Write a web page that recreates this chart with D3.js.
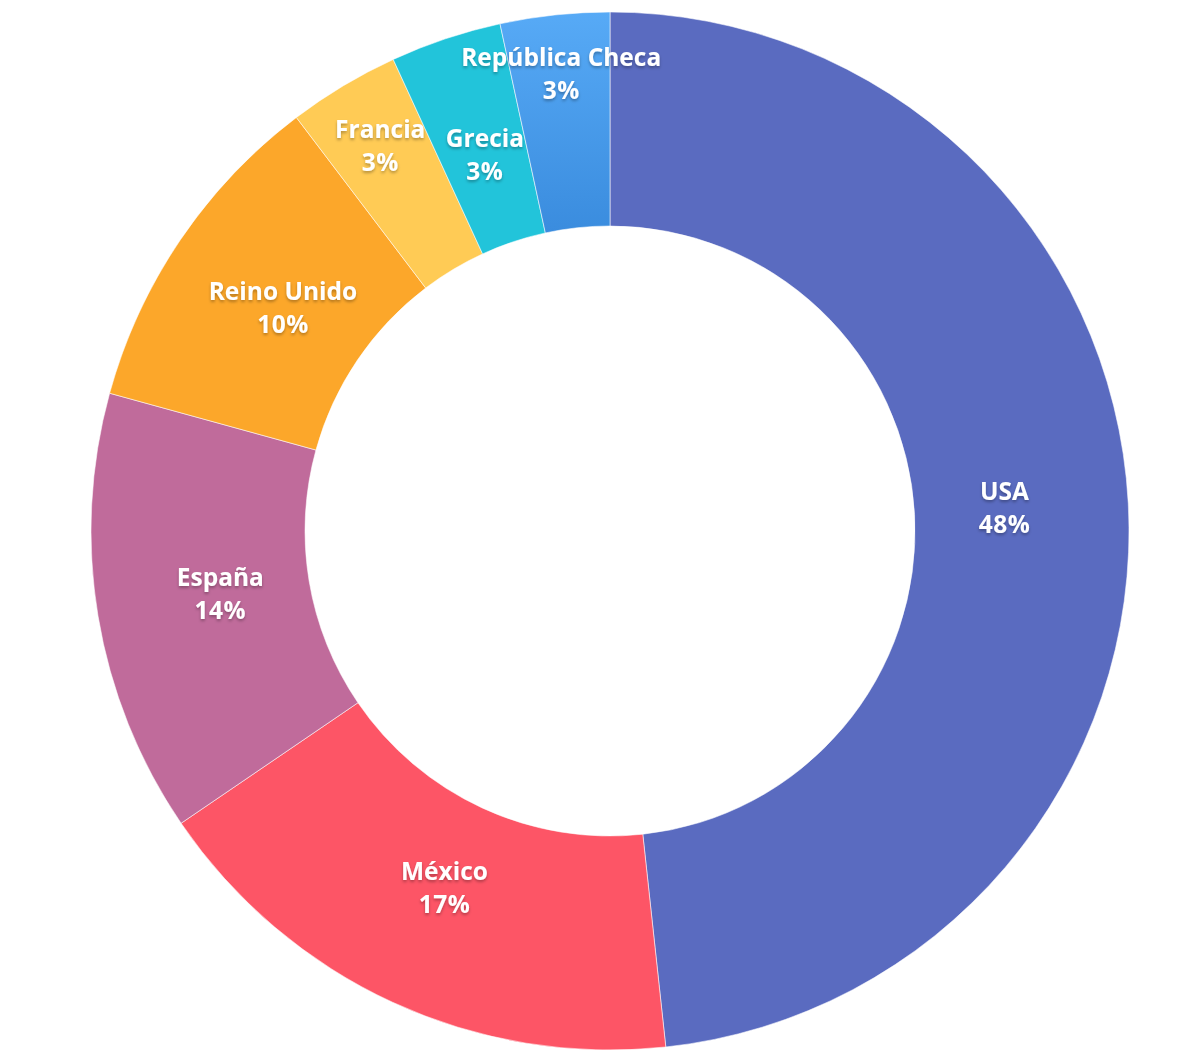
<!DOCTYPE html>
<html>
<head>
<meta charset="utf-8">
<script src="https://cdn.jsdelivr.net/npm/d3@7"></script>
<style>
  html, body { margin: 0; padding: 0; background: #fff; }
  svg { display: block; }
</style>
</head>
<body>
<svg id="chart" width="1188" height="1060"></svg>
<script>
// Data
const categories = ["USA", "México", "España", "Reino Unido", "Francia", "Grecia", "República Checa"];
const values = [48.3, 17.2, 13.8, 10.4, 3.47, 3.46, 3.4];
const percentLabels = ["48%", "17%", "14%", "10%", "3%", "3%", "3%"];
const colors = ["#5A6BC0", "#FD5566", "#C06B9B", "#FCA72A", "#FFCB55", "#22C4DA", "url(#gradCheca)"];

// Layout (labels pushed outward to avoid overlap)
const labelPush = { "Francia": 52, "República Checa": 63 };

const W = 1188, H = 1060;
const cx = 610, cy = 531;
const outerR = 519, innerR = 305, labelR = 395;

const svg = d3.select("#chart");
const defs = svg.append("defs");
const grad = defs.append("linearGradient").attr("id", "gradCheca")
  .attr("x1", 0).attr("y1", 0).attr("x2", 0).attr("y2", 1);
grad.append("stop").attr("offset", "0%").attr("stop-color", "#57AAF6");
grad.append("stop").attr("offset", "100%").attr("stop-color", "#3A8CDE");

const shadow = defs.append("filter").attr("id", "tshadow")
  .attr("x", "-20%").attr("y", "-20%").attr("width", "140%").attr("height", "160%");
shadow.append("feDropShadow").attr("dx", 0).attr("dy", 2).attr("stdDeviation", 1.6)
  .attr("flood-color", "#000").attr("flood-opacity", 0.3);

const data = categories.map((c, i) => ({ name: c, value: values[i], pct: percentLabels[i], color: colors[i] }));

const pie = d3.pie().value(d => d.value).sort(null);
const arcs = pie(data);
const arc = d3.arc().innerRadius(innerR).outerRadius(outerR);

const g = svg.append("g").attr("transform", `translate(${cx},${cy})`);

g.selectAll("path.slice").data(arcs).join("path")
  .attr("class", "slice")
  .attr("d", arc)
  .attr("fill", d => d.data.color)
  .attr("stroke", "rgba(255,255,255,0.55)")
  .attr("stroke-width", 1);

const labels = g.selectAll("g.label").data(arcs).join("g")
  .attr("class", "label")
  .attr("filter", "url(#tshadow)")
  .attr("transform", d => {
    const r = labelR + (labelPush[d.data.name] || 0);
    const a = (d.startAngle + d.endAngle) / 2;
    return `translate(${r * Math.sin(a)},${-r * Math.cos(a)})`;
  });

labels.append("text")
  .attr("text-anchor", "middle")
  .attr("y", -19)
  .attr("dominant-baseline", "central")
  .attr("fill", "#fff")
  .style("font-family", "'Open Sans', sans-serif")
  .style("font-weight", 700)
  .style("font-size", "24.5px")
  .text(d => d.data.name);

labels.append("text")
  .attr("text-anchor", "middle")
  .attr("y", 14)
  .attr("dominant-baseline", "central")
  .attr("fill", "#fff")
  .style("font-family", "'Open Sans', sans-serif")
  .style("font-weight", 700)
  .style("font-size", "24.5px")
  .style("letter-spacing", "0.5px")
  .text(d => d.data.pct);
</script>
</body>
</html>
